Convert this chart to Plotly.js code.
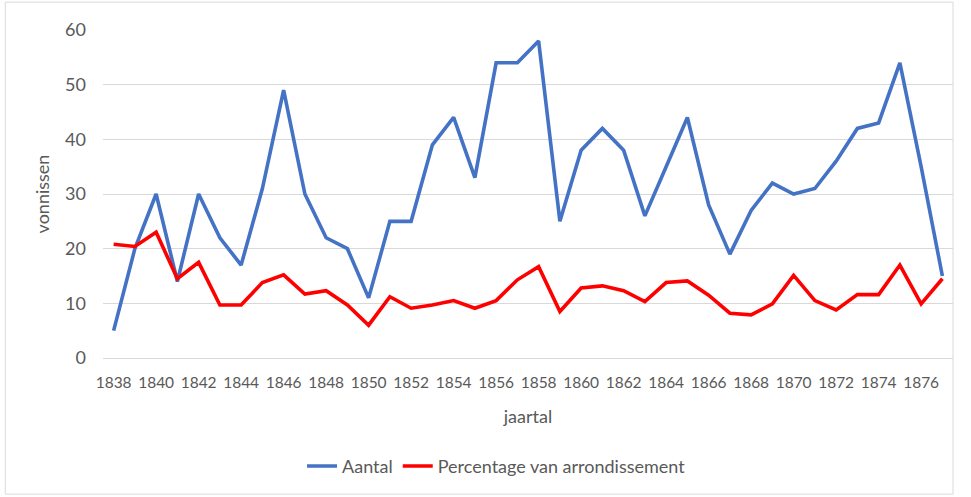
<!DOCTYPE html>
<html><head><meta charset="utf-8">
<script src="https://cdn.plot.ly/plotly-3.0.1.min.js"></script>
<style>html,body{margin:0;padding:0;background:#fff}#chart{width:971px;height:497px}</style>
</head><body><div id="chart"></div>
<script>
var years = [];
for (var yr = 1838; yr <= 1877; yr++) years.push(yr);
var aantal = [5,20,30,14,30,22,17,31,49,30,22,20,11,25,25,39,44,33,54,54,58,25,38,42,38,26,35,44,28,19,27,32,30,31,36,42,43,54,35,15];
var percentage = [20.8,20.4,23,14.5,17.5,9.7,9.7,13.8,15.2,11.7,12.3,9.7,6,11.2,9.1,9.7,10.5,9.1,10.5,14.3,16.7,8.5,12.8,13.2,12.3,10.3,13.8,14.1,11.5,8.2,7.9,9.9,15.1,10.5,8.8,11.6,11.6,17,9.9,14.5];
var tickYears = [];
for (var t = 1838; t <= 1876; t += 2) tickYears.push(t);
var fontFam = 'Lato, "Open Sans", sans-serif';
var fs = 18;
var data = [
  {x: years, y: aantal, type: 'scatter', mode: 'lines', name: 'Aantal', line: {color: '#4472C4', width: 3.6}},
  {x: years, y: percentage, type: 'scatter', mode: 'lines', name: 'Percentage van arrondissement', line: {color: '#FF0000', width: 3.6}}
];
var layout = {
  width: 971, height: 497,
  margin: {l: 103, r: 18, t: 30, b: 139},
  paper_bgcolor: '#fff', plot_bgcolor: '#fff',
  font: {family: fontFam, color: '#595959', size: fs},
  showlegend: true,
  legend: {orientation: 'h', x: 0.463, xanchor: 'center', y: -0.33, yanchor: 'middle', font: {size: fs, color: '#595959'}, traceorder: 'normal', itemwidth: 30},
  xaxis: {
    range: [1837.5, 1877.5], tickvals: tickYears, ticktext: tickYears.map(String),
    tickangle: 0, ticklabelstandoff: 13,
    showgrid: false, zeroline: false, showline: false, ticks: '',
    tickfont: {size: 15.5, color: '#595959'},
    title: {text: 'jaartal', font: {size: fs, color: '#595959'}, standoff: 20}
  },
  yaxis: {
    range: [0, 60], dtick: 10, showgrid: true, gridcolor: '#D9D9D9', gridwidth: 1,
    zeroline: true, zerolinecolor: '#D9D9D9', zerolinewidth: 1, showline: false, ticks: '',
    ticklabelstandoff: 16,
    tickfont: {size: fs, color: '#595959'},
    title: {text: 'vonnissen', font: {size: fs, color: '#595959'}, standoff: 10}
  },
  shapes: [{type: 'rect', xref: 'paper', yref: 'paper', x0: -0.115, x1: 1.0, y0: -0.415, y1: 1.085, line: {color: '#D9D9D9', width: 1}, fillcolor: 'rgba(0,0,0,0)', layer: 'below'}]
};
Plotly.newPlot('chart', data, layout, {displayModeBar: false});
</script></body></html>
